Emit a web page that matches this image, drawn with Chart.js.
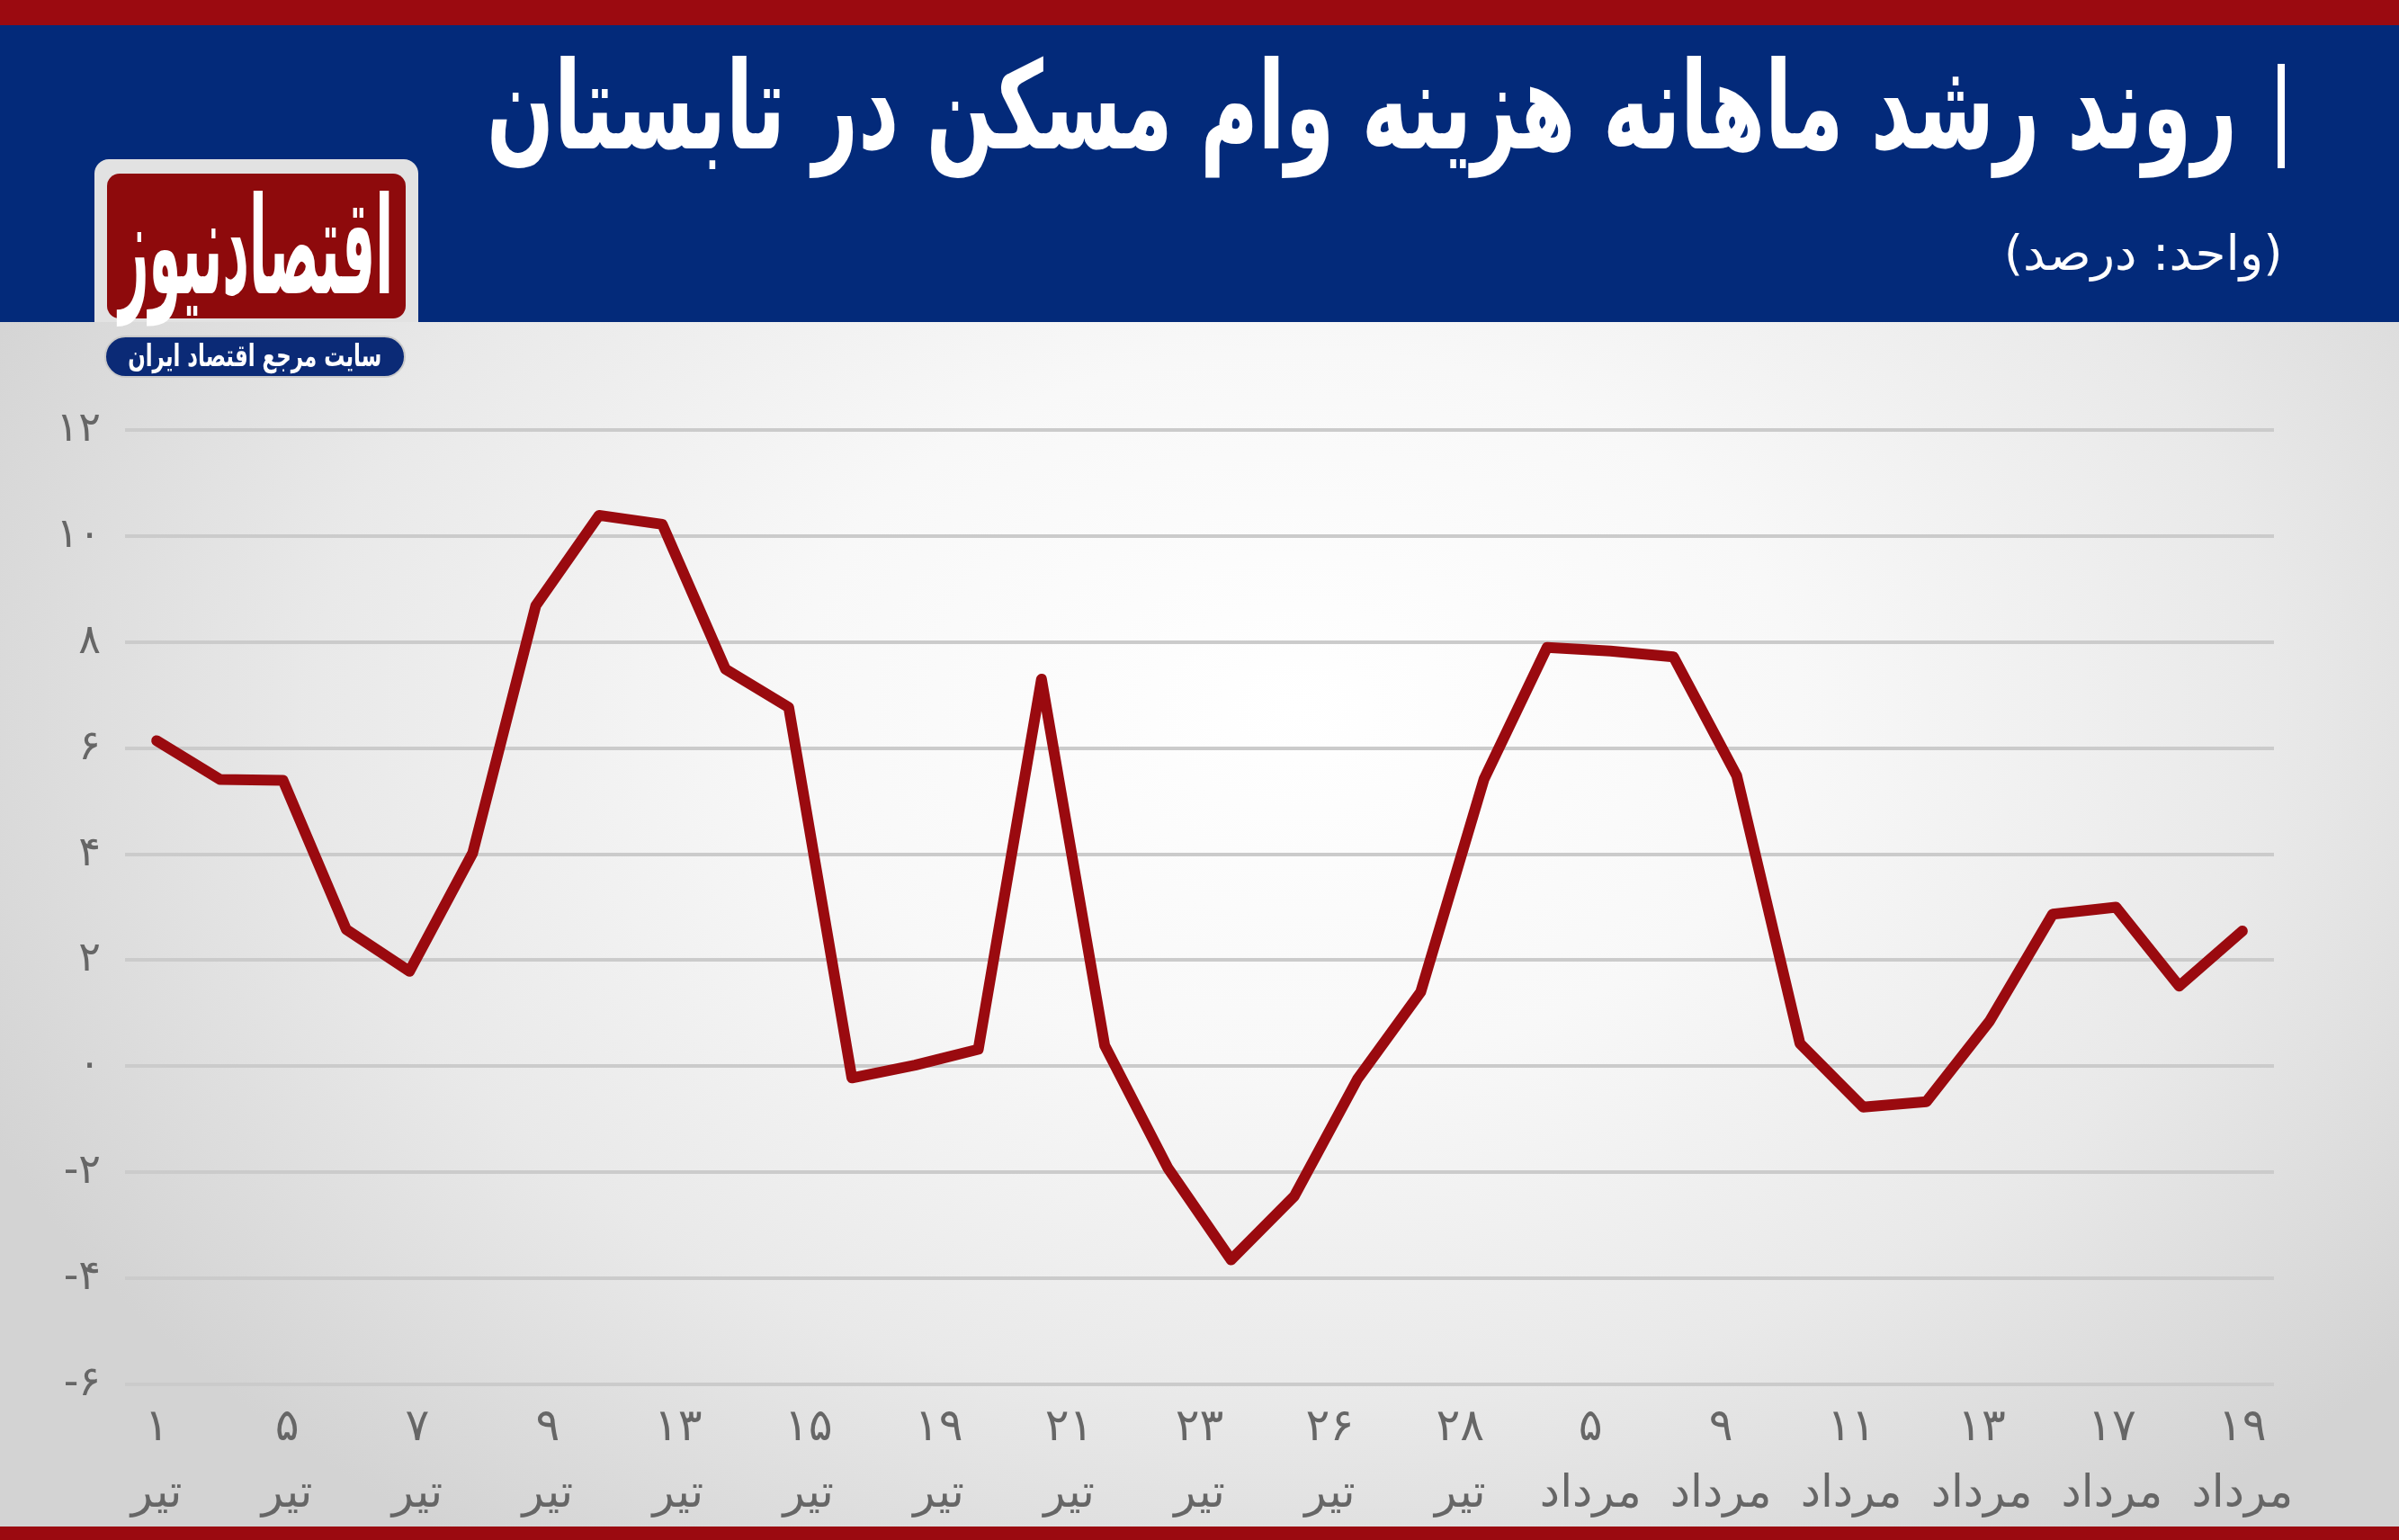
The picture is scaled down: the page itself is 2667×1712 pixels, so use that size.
<!DOCTYPE html>
<html><head><meta charset="utf-8">
<script src="https://cdn.jsdelivr.net/npm/chart.js@4.4.1/dist/chart.umd.min.js"></script>
<style>
html,body{margin:0;padding:0;}
body{width:2667px;height:1712px;position:relative;overflow:hidden;background:#dcdcdc;font-family:"DejaVu Sans",sans-serif;}
#bg{position:absolute;left:0;top:358px;width:2667px;height:1339px;
 background:radial-gradient(ellipse 60% 85% at 54% 32%, #ffffff 0%, #f8f8f8 35%, #e9e9e9 68%, #d3d3d3 100%);}
#topRed{position:absolute;left:0;top:0;width:2667px;height:28px;background:#9b0a10;}
#band{position:absolute;left:0;top:28px;width:2667px;height:330px;background:#032a7a;}
#botRed{position:absolute;left:0;top:1697px;width:2667px;height:15px;background:#9b0a10;}
#chartWrap{position:absolute;left:0;top:0;width:2667px;height:1712px;}
.fit{position:absolute;white-space:nowrap;display:inline-block;line-height:1;color:#fff;}
#title{right:180px;top:62px;font-size:112px;font-weight:bold;transform-origin:right center;direction:rtl;}
#bar{position:absolute;left:2532px;top:71px;width:8px;height:116px;background:#fff;}
#sub{right:129px;top:255px;font-size:54px;transform-origin:right center;direction:rtl;}
#logoBox{position:absolute;left:105px;top:177px;width:360px;height:181px;background:#e2e2e2;border-radius:16px 16px 0 0;}
#logoRed{position:absolute;left:119px;top:193px;width:332px;height:161px;background:#8e0a0c;border-radius:14px;}
#logoText{left:0;top:0;font-size:80px;font-weight:bold;transform-origin:center center;direction:rtl;}
#pill{position:absolute;left:116px;top:373px;width:331px;height:43px;background:#0b2a76;border-radius:24px;border:2px solid #c9c9c9;}
#pillText{left:0;top:0;font-size:28px;font-weight:bold;transform-origin:center center;direction:rtl;}
</style></head>
<body>
<div id="bg"></div>
<div id="botRed"></div>
<div id="chartWrap"><canvas id="c" width="2667" height="1712"></canvas></div>
<div id="topRed"></div>
<div id="band"></div>
<div id="bar"></div>
<div id="title" class="fit">روند رشد ماهانه هزینه وام مسکن در تابستان</div>
<div id="sub" class="fit">(واحد: درصد)</div>
<div id="logoBox"></div>
<div id="logoRed"><div id="logoText" class="fit">اقتصادنیوز</div></div>
<div id="pill"><div id="pillText" class="fit">سایت مرجع اقتصاد ایران</div></div>
<script>
// ---- data ----
const growthValues = [6.14, 5.41, 5.39, 2.58, 1.79, 4.02, 8.69, 10.39, 10.22, 7.49, 6.77, -0.22, 0.02, 0.32, 7.3, 0.39, -1.92, -3.65, -2.45, -0.24, 1.4, 5.41, 7.9, 7.83, 7.72, 5.48, 0.43, -0.77, -0.67, 0.85, 2.87, 3.0, 1.51, 2.55];
const xDays = ['۱','۵','۷','۹','۱۳','۱۵','۱۹','۲۱','۲۳','۲۶','۲۸','۵','۹','۱۱','۱۳','۱۷','۱۹'];
const xMonths = ['تیر','تیر','تیر','تیر','تیر','تیر','تیر','تیر','تیر','تیر','تیر','مرداد','مرداد','مرداد','مرداد','مرداد','مرداد'];
const yTickValues = [-6, -4, -2, 0, 2, 4, 6, 8, 10, 12];
const yTickLabels = ['-۶','-۴','-۲','۰','۲','۴','۶','۸','۱۰','۱۲'];

// ---- header text fitting ----
function fitBox(el, w, h, cx, cy){
  const r = el.getBoundingClientRect();
  const sx = w / r.width, sy = h ? h / r.height : 1;
  if (cx !== undefined){
    el.style.left = (cx - r.width/2) + 'px';
    el.style.top = (cy - r.height/2) + 'px';
  }
  el.style.transform = `scale(${sx},${sy})`;
}
fitBox(document.getElementById('title'), 1946, 135);
fitBox(document.getElementById('sub'), 310);
fitBox(document.getElementById('logoText'), 305, 150, 166, 82);
fitBox(document.getElementById('pillText'), 282, 34, 165, 21);

// ---- chart ----
const FONT = '"DejaVu Sans", sans-serif';
const nPts = growthValues.length;
new Chart(document.getElementById('c'), {
  type: 'line',
  data: {
    datasets: [{
      data: growthValues.map((v, i) => ({x: i, y: v})),
      borderColor: '#9a0a0f',
      borderWidth: 12,
      pointRadius: 0,
      tension: 0,
      fill: false,
      borderJoinStyle: 'round',
      borderCapStyle: 'round'
    }]
  },
  options: {
    responsive: false,
    animation: false,
    devicePixelRatio: 1,
    layout: {padding: {top: 478, left: 0, right: 139, bottom: 23}},
    plugins: {legend: {display: false}, tooltip: {enabled: false}},
    scales: {
      x: {
        type: 'linear', bounds: 'data', min: -0.5, max: nPts - 0.5,
        afterBuildTicks: a => { a.ticks = xDays.map((_, k) => ({value: k * (nPts - 1) / (xDays.length - 1)})); },
        afterFit: a => { a.height = 150; },
        grid: {display: false, drawTicks: false},
        border: {display: false},
        ticks: {
          autoSkip: false, maxRotation: 0, minRotation: 0, padding: 12,
          color: '#666666', font: {family: FONT, size: 50, lineHeight: 1.48},
          callback: (v, i) => [xDays[i], xMonths[i]]
        }
      },
      y: {
        type: 'linear', min: -6, max: 12,
        afterBuildTicks: a => { a.ticks = yTickValues.map(v => ({value: v})); },
        afterFit: a => { a.width = 139; },
        grid: {color: '#cbcbcb', lineWidth: 4, drawTicks: false},
        border: {display: false},
        ticks: {
          padding: 27, color: '#666666', font: {family: FONT, size: 46},
          callback: (v, i) => yTickLabels[i]
        }
      }
    }
  }
});
</script>
</body></html>
